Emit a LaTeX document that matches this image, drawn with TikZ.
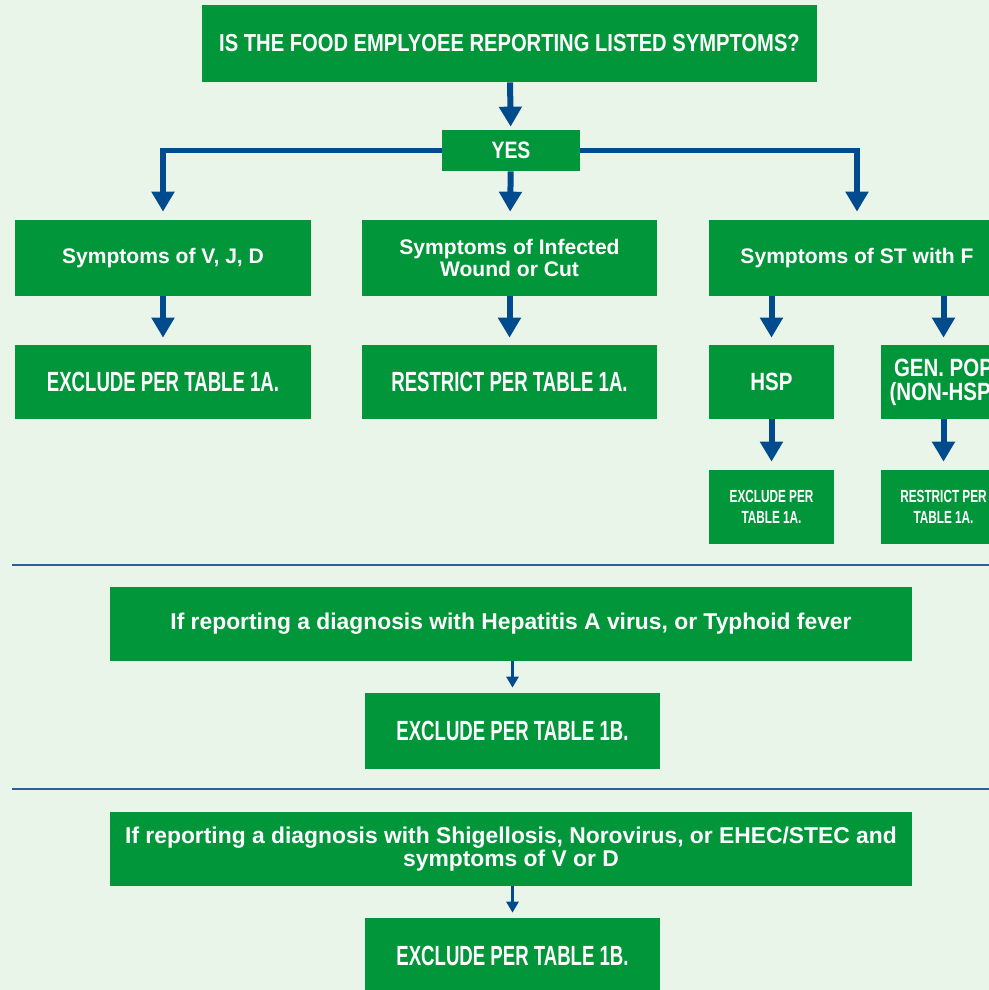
\documentclass[tikz,border=0pt]{standalone}
\usepackage{fontspec}
\usepackage{tikz}
\usetikzlibrary{arrows.meta}
\setmainfont{Liberation Sans}
\newfontfamily\plainfnt{Liberation Sans}
\newfontfamily\semifnt{Liberation Sans}[FakeStretch=0.82]
\newfontfamily\narrowfnt{Liberation Sans}[FakeStretch=0.67]
\definecolor{boxgreen}{HTML}{009639}
\definecolor{bggreen}{HTML}{EAF5EA}
\definecolor{arrblue}{HTML}{004B8D}
\definecolor{lineblue}{HTML}{2A5F9E}
\tikzset{
  box/.style={fill=boxgreen, text=white, inner sep=0pt, align=center, font=\bfseries},
  arr/.style={draw=arrblue, line width=0.12cm, -{Triangle[width=0.44cm,length=0.4cm]}},
  thinarr/.style={draw=arrblue, line width=0.06cm, -{Triangle[width=0.24cm,length=0.22cm]}},
  sepline/.style={draw=lineblue, line width=0.04cm}
}
\begin{document}
\begin{tikzpicture}[x=0.02cm,y=-0.02cm]
        \useasboundingbox (0,0) rectangle (989,990);
        \clip (0,0) rectangle (989,990);
        \fill[bggreen] (0,0) rectangle (989,990);

        % question and answer
        \node[box, minimum width=12.3cm, minimum height=1.54cm, font=\semifnt\bfseries\fontsize{14}{16}\selectfont] (ask) at (509.5,43.5) {IS THE FOOD EMPLYOEE REPORTING LISTED SYMPTOMS?};
        \node[box, minimum width=2.76cm, minimum height=0.82cm, font=\semifnt\bfseries\fontsize{13.5}{15}\selectfont] (yes) at (511,150.5) {YES};

        % symptoms
        \node[box, minimum width=5.92cm, minimum height=1.52cm, font=\plainfnt\bfseries\fontsize{12}{13}\selectfont] (vjd) at (163,258) {Symptoms of V, J, D};
        \node[box, minimum width=5.9cm, minimum height=1.52cm, font=\plainfnt\bfseries\fontsize{12}{13}\selectfont] (wound) at (509.5,258) {Symptoms of Infected\\Wound or Cut};
        \node[box, minimum width=5.92cm, minimum height=1.52cm, font=\plainfnt\bfseries\fontsize{12}{13}\selectfont] (stf) at (857,258) {Symptoms of ST with F};

        % actions
        \node[box, minimum width=5.92cm, minimum height=1.48cm, font=\narrowfnt\bfseries\fontsize{15.8}{17}\selectfont] (excla) at (163,382) {EXCLUDE PER TABLE 1A.};
        \node[box, minimum width=5.9cm, minimum height=1.48cm, font=\narrowfnt\bfseries\fontsize{15.8}{17}\selectfont] (restra) at (509.5,382) {RESTRICT PER TABLE 1A.};
        \node[box, minimum width=2.5cm, minimum height=1.48cm, font=\semifnt\bfseries\fontsize{14.2}{13.6}\selectfont] (hsp) at (771.5,382) {HSP};
        \node[box, minimum width=2.5cm, minimum height=1.48cm, font=\semifnt\bfseries\fontsize{14.2}{13.6}\selectfont] (genpop) at (943.5,382) {GEN. POP\\(NON-HSP)};
        \node[box, minimum width=2.5cm, minimum height=1.48cm, font=\narrowfnt\bfseries\fontsize{10}{12}\selectfont] (hspex) at (771.5,507) {EXCLUDE PER\\TABLE 1A.};
        \node[box, minimum width=2.5cm, minimum height=1.48cm, font=\narrowfnt\bfseries\fontsize{10}{12}\selectfont] (genres) at (943.5,507) {RESTRICT PER\\TABLE 1A.};

        % diagnoses
        \node[box, minimum width=16.04cm, minimum height=1.48cm, font=\plainfnt\bfseries\fontsize{13}{13}\selectfont] (hep) at (511,624) {If reporting a diagnosis with Hepatitis A virus, or Typhoid fever};
        \node[box, minimum width=5.9cm, minimum height=1.52cm, font=\narrowfnt\bfseries\fontsize{15.8}{17}\selectfont] (exclb) at (512.5,731) {EXCLUDE PER TABLE 1B.};
        \node[box, minimum width=16.04cm, minimum height=1.48cm, font=\plainfnt\bfseries\fontsize{13}{13}\selectfont] (shig) at (511,849) {If reporting a diagnosis with Shigellosis, Norovirus, or EHEC/STEC and\\symptoms of V or D};
        \node[box, minimum width=5.9cm, minimum height=1.52cm, font=\narrowfnt\bfseries\fontsize{15.8}{17}\selectfont] (exclc) at (512.5,956) {EXCLUDE PER TABLE 1B.};

        % separators
        \draw[sepline] (12,565) -- (1000,565);
        \draw[sepline] (12,789) -- (1000,789);

        % arrows
        \draw[arr, shorten >=0.06cm] (ask) -- (yes);
        \draw[arr, shorten >=0.16cm] (yes.west) -| (vjd.north);
        \draw[arr, shorten >=0.16cm] (yes) -- (wound);
        \draw[arr, shorten >=0.16cm] (yes.east) -| (stf.north);
        \draw[arr, shorten >=0.14cm] (vjd) -- (excla);
        \draw[arr, shorten >=0.14cm] (wound) -- (restra);
        \draw[arr, shorten >=0.14cm] (hsp.north |- stf.south) -- (hsp.north);
        \draw[arr, shorten >=0.14cm] (genpop.north |- stf.south) -- (genpop.north);
        \draw[arr, shorten >=0.16cm] (hsp) -- (hspex);
        \draw[arr, shorten >=0.16cm] (genpop.south -| genres.north) -- (genres.north);
        \draw[thinarr, shorten >=0.1cm] (hep.south -| exclb.north) -- (exclb.north);
        \draw[thinarr, shorten >=0.1cm] (shig.south -| exclc.north) -- (exclc.north);
\end{tikzpicture}
\end{document}
